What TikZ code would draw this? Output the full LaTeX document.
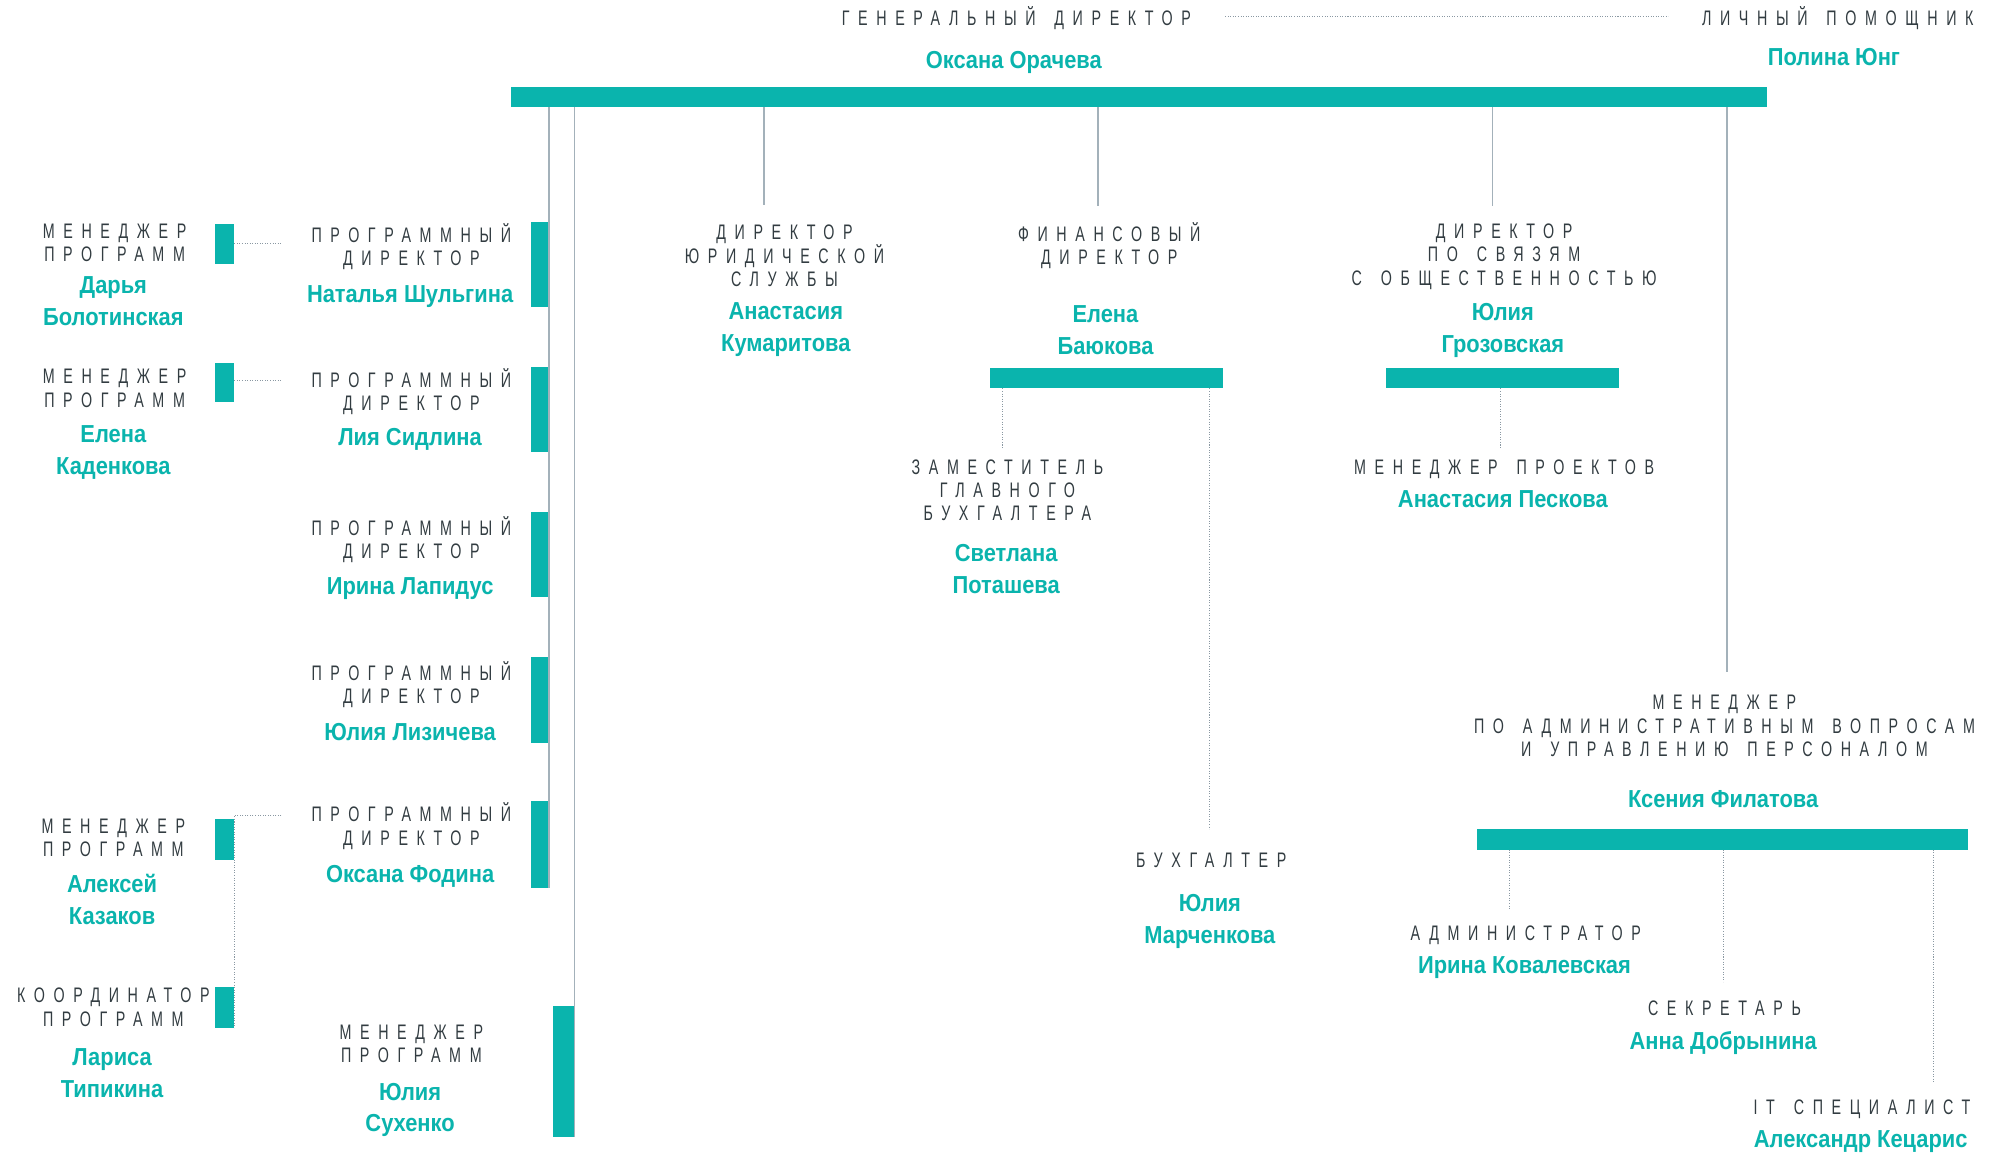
\documentclass[tikz,border=0pt]{standalone}
\usepackage{fontspec}
\setmainfont{Liberation Sans}
\newfontfamily\ttlfam[FakeStretch=0.68,LetterSpace=41,WordSpace=1.5]{Liberation Sans}
\newfontfamily\nmfam[FakeStretch=0.89]{Liberation Sans}
\definecolor{tealc}{HTML}{0AB4AD}
\definecolor{ttlgray}{HTML}{323C41}
\definecolor{lngray}{HTML}{A3B1BA}
\definecolor{dotgray}{HTML}{8A98A2}
\tikzset{
  ttl/.style={font={\ttlfam\fontsize{16.5}{18.3}\selectfont}, text=ttlgray, align=center, inner sep=0pt, anchor=base, xshift=1pt},
  nm/.style={font={\nmfam\bfseries\fontsize{19.3}{25}\selectfont}, text=tealc, align=center, inner sep=0pt, anchor=base},
  barbox/.style={fill=tealc, draw=none, rectangle, inner sep=0pt, outer sep=0pt, anchor=north west},
  solidln/.style={draw=lngray, line width=1.1pt},
  dotln/.style={draw=dotgray, line width=0.8pt, dash pattern=on 0.8pt off 1.2pt},
}
\begin{document}
\begin{tikzpicture}[x=1pt,y=-1pt]
\useasboundingbox (0,0) rectangle (1568,905);

% ---------- bars ----------
\node[barbox, minimum width=986pt, minimum height=16pt] (mainbar) at (401,68) {};
\node[barbox, minimum width=14pt, minimum height=67pt] (pdbar1) at (417,174) {};
\node[barbox, minimum width=14pt, minimum height=67pt] (pdbar2) at (417,288) {};
\node[barbox, minimum width=14pt, minimum height=67pt] (pdbar3) at (417,402) {};
\node[barbox, minimum width=14pt, minimum height=67pt] (pdbar4) at (417,516) {};
\node[barbox, minimum width=14pt, minimum height=68pt] (pdbar5) at (417,629) {};
\node[barbox, minimum width=17pt, minimum height=103pt] (smbar) at (434,790) {};
\node[barbox, minimum width=15pt, minimum height=31pt] (mbar1) at (169,176) {};
\node[barbox, minimum width=15pt, minimum height=31pt] (mbar2) at (169,285) {};
\node[barbox, minimum width=15pt, minimum height=32pt] (mbar3) at (169,643) {};
\node[barbox, minimum width=15pt, minimum height=32pt] (mbar4) at (169,775) {};
\node[barbox, minimum width=183pt, minimum height=16pt] (finbar) at (777,289) {};
\node[barbox, minimum width=183pt, minimum height=16pt] (prbar) at (1088,289) {};
\node[barbox, minimum width=385pt, minimum height=16pt] (admbar) at (1160,651) {};

% ---------- texts (anchor = baseline of the last line) ----------
\node[ttl] (gdt) at (797,20.3) {ГЕНЕРАЛЬНЫЙ ДИРЕКТОР};
\node[nm] (gdn) at (796,53.7) {Оксана Орачева};
\node[ttl] (pat) at (1442,20.3) {ЛИЧНЫЙ ПОМОЩНИК};
\node[nm] (pan) at (1440,51.7) {Полина Юнг};

\node[ttl] (m1t) at (89,205.6) {МЕНЕДЖЕР\\ПРОГРАММ};
\node[nm] (m1n) at (89,255.7) {Дарья\\Болотинская};
\node[ttl] (m2t) at (89,319.6) {МЕНЕДЖЕР\\ПРОГРАММ};
\node[nm] (m2n) at (89,372.7) {Елена\\Каденкова};
\node[ttl] (m3t) at (88,672.6) {МЕНЕДЖЕР\\ПРОГРАММ};
\node[nm] (m3n) at (88,725.7) {Алексей\\Казаков};
\node[ttl] (m4t) at (88,805.6) {КООРДИНАТОР\\ПРОГРАММ};
\node[nm] (m4n) at (88,861.7) {Лариса\\Типикина};

\node[ttl] (pd1t) at (322,208.8) {ПРОГРАММНЫЙ\\ДИРЕКТОР};
\node[nm] (pd1n) at (322,237.5) {Наталья Шульгина};
\node[ttl] (pd2t) at (322,322.6) {ПРОГРАММНЫЙ\\ДИРЕКТОР};
\node[nm] (pd2n) at (322,349.7) {Лия Сидлина};
\node[ttl] (pd3t) at (322,438.6) {ПРОГРАММНЫЙ\\ДИРЕКТОР};
\node[nm] (pd3n) at (322,466.7) {Ирина Лапидус};
\node[ttl] (pd4t) at (322,552.6) {ПРОГРАММНЫЙ\\ДИРЕКТОР};
\node[nm] (pd4n) at (322,581.7) {Юлия Лизичева};
\node[ttl] (pd5t) at (322,663.6) {ПРОГРАММНЫЙ\\ДИРЕКТОР};
\node[nm] (pd5n) at (322,692.7) {Оксана Фодина};
\node[ttl] (smt) at (322,834.6) {МЕНЕДЖЕР\\ПРОГРАММ};
\node[nm] (smn) at (322,888.7) {Юлия\\Сухенко};

\node[ttl] (legt) at (615,224.9) {ДИРЕКТОР\\ЮРИДИЧЕСКОЙ\\СЛУЖБЫ};
\node[nm] (legn) at (617,275.7) {Анастасия\\Кумаритова};
\node[ttl] (fint) at (870,207.6) {ФИНАНСОВЫЙ\\ДИРЕКТОР};
\node[nm] (finn) at (868,278.2) {Елена\\Баюкова};
\node[ttl] (dept) at (790,408.9) {ЗАМЕСТИТЕЛЬ\\ГЛАВНОГО\\БУХГАЛТЕРА};
\node[nm] (depn) at (790,465.7) {Светлана\\Поташева};
\node[ttl] (acct) at (950,681.3) {БУХГАЛТЕР};
\node[nm] (accn) at (950,740.7) {Юлия\\Марченкова};
\node[ttl] (prt) at (1180,223.9) {ДИРЕКТОР\\ПО СВЯЗЯМ\\С ОБЩЕСТВЕННОСТЬЮ};
\node[nm] (prn) at (1180,276.7) {Юлия\\Грозовская};
\node[ttl] (pmt) at (1180,372.3) {МЕНЕДЖЕР ПРОЕКТОВ};
\node[nm] (pmn) at (1180,398.7) {Анастасия Пескова};
\node[ttl] (amt) at (1353,593.9) {МЕНЕДЖЕР\\ПО АДМИНИСТРАТИВНЫМ ВОПРОСАМ\\И УПРАВЛЕНИЮ ПЕРСОНАЛОМ};
\node[nm] (amn) at (1353,633.7) {Ксения Филатова};
\node[ttl] (admt) at (1197,738.3) {АДМИНИСТРАТОР};
\node[nm] (admn) at (1197,764.7) {Ирина Ковалевская};
\node[ttl] (sect) at (1353,797.3) {СЕКРЕТАРЬ};
\node[nm] (secn) at (1353,823.7) {Анна Добрынина};
\node[ttl] (itt) at (1461,875.3) {IT СПЕЦИАЛИСТ};
\node[nm] (itn) at (1461,900.7) {Александр Кецарис};

% ---------- free ends ----------
\coordinate (gdend) at (962,13);
\coordinate (paend) at (1310,13);
\coordinate (legtop) at (600,161);
\coordinate (fintop) at (862,162);
\coordinate (prtop) at (1172,162);
\coordinate (amtop) at (1356,528);
\coordinate (m1to) at (221,191);
\coordinate (m2to) at (221,299);
\coordinate (m3to) at (221,640);
\coordinate (deptop) at (787,352);
\coordinate (acctop) at (950,651);
\coordinate (pmtop) at (1178,352);
\coordinate (admtop) at (1185,714);
\coordinate (sectop) at (1353,771);
\coordinate (ittop) at (1518,850);

% ---------- solid connectors ----------
\draw[solidln] (pdbar5.south east |- mainbar.south) -- (pdbar5.south east);
\draw[solidln] (smbar.south east |- mainbar.south) -- (smbar.south east);
\draw[solidln] (legtop |- mainbar.south) -- (legtop);
\draw[solidln] (fintop |- mainbar.south) -- (fintop);
\draw[solidln] (prtop |- mainbar.south) -- (prtop);
\draw[solidln] (amtop |- mainbar.south) -- (amtop);

% ---------- dotted connectors ----------
\draw[dotln] (gdend) -- (paend);
\draw[dotln] (mbar1.east |- m1to) -- (m1to);
\draw[dotln] (mbar2.east |- m2to) -- (m2to);
\draw[dotln] (m3to) -- (mbar3.east |- m3to) -- (mbar4.south east);
\draw[dotln] (deptop |- finbar.south) -- (deptop);
\draw[dotln] (acctop |- finbar.south) -- (acctop);
\draw[dotln] (pmtop |- prbar.south) -- (pmtop);
\draw[dotln] (admtop |- admbar.south) -- (admtop);
\draw[dotln] (sectop |- admbar.south) -- (sectop);
\draw[dotln] (ittop |- admbar.south) -- (ittop);
\end{tikzpicture}
\end{document}
